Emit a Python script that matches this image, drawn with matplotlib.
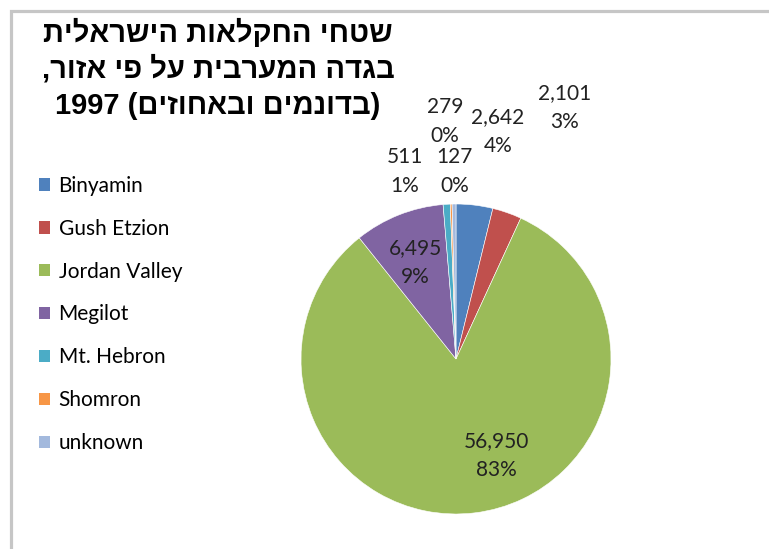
import matplotlib.pyplot as plt
from matplotlib.patches import Patch, Rectangle

# data (dunams and percent, as printed on the chart)
regions = ['Binyamin', 'Gush Etzion', 'Jordan Valley', 'Megilot', 'Mt. Hebron', 'Shomron', 'unknown']
dunams = [2642, 2101, 56950, 6495, 511, 127, 279]
percents = ['4%', '3%', '83%', '9%', '1%', '0%', '0%']
colors = ['#4F81BD', '#C0504D', '#9BBB59', '#8064A2', '#4BACC6', '#F79646', '#A3B9DD']

# label positions in pie units (radius = 1), same order as regions
label_pos = [(0.27, 1.47), (0.70, 1.62), (0.26, -0.62), (-0.26, 0.62),
             (-0.33, 1.21), (-0.01, 1.21), (-0.07, 1.53)]

title_lines = ['שטחי החקלאות הישראלית', 'בגדה המערבית על פי אזור,']
title_last = 'בדונמים ובאחוזים'

W, H = 769, 549
fig = plt.figure(figsize=(W / 100, H / 100), dpi=100)

# pie centre (456, 359) px, radius 155 px
cx, cy, r = 456, 359, 155
ax = fig.add_axes([(cx - r) / W, (H - cy - r) / H, 2 * r / W, 2 * r / H])
ax.pie(dunams, colors=colors, startangle=90, counterclock=False,
       wedgeprops=dict(edgecolor='white', linewidth=0.4))
ax.set_xlim(-1, 1)
ax.set_ylim(-1, 1)
ax.set_aspect('equal')

for v, p, (x, y) in zip(dunams, percents, label_pos):
    ax.text(x, y, f'{v:,}\n{p}', ha='center', va='center', fontsize=15,
            family='Lato', color='#222222', linespacing=1.55)

# legend
handles = [Patch(facecolor=c, edgecolor='none') for c in colors]
fig.legend(handles, regions, loc='upper left', bbox_to_anchor=(20 / W, 1 - 157 / H),
           frameon=False, prop={'family': 'Lato', 'size': 15},
           handlelength=0.55, handleheight=0.55, handletextpad=0.4, labelspacing=1.1)

# title (hebrew reversed for visual order)
tx = 218 / W
tkw = dict(ha='center', va='center', fontsize=21, fontweight='bold', family='Liberation Sans')
fig.text(tx, 1 - 33 / H, title_lines[0][::-1], **tkw)
fig.text(tx, 1 - 69 / H, title_lines[1][::-1], **tkw)
fig.text(tx, 1 - 106 / H, '1997 (' + title_last[::-1] + ')', **tkw)

# grey frame (only top and left edges visible)
fig.patches.append(Rectangle((10.5 / W, -0.05), 1.1, 1 - 10.5 / H + 0.05,
                             transform=fig.transFigure, fill=False,
                             edgecolor='#c6c6c6', linewidth=2.3))

fig.savefig('out.png', dpi=100)
